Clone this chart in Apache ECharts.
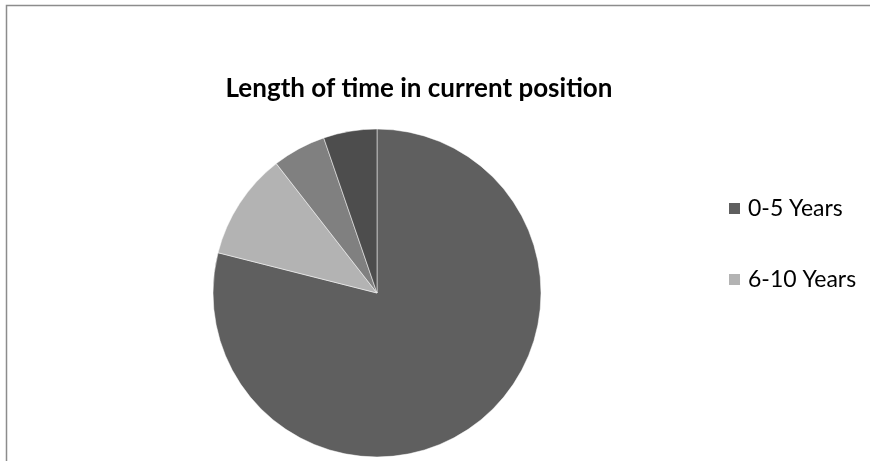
<!DOCTYPE html>
<html>
<head>
<meta charset="utf-8">
<script src="https://cdn.jsdelivr.net/npm/echarts@6/dist/echarts.min.js"></script>
<style>
  html, body { margin: 0; padding: 0; background: #fff; }
  #chart { width: 870px; height: 461px; }
</style>
</head>
<body>
<div id="chart"></div>
<script>
// Tenure groups and respondent counts
const categories = ['0-5 Years', '6-10 Years', '11-15 Years', '16+ Years'];
const counts = [15, 2, 1, 1];
const sliceColors = ['#5f5f5f', '#b3b3b3', '#808080', '#4d4d4d'];
const legendShown = ['0-5 Years', '6-10 Years'];

const chart = echarts.init(document.getElementById('chart'), null, { renderer: 'canvas' });

chart.setOption({
  animation: false,
  backgroundColor: '#fff',
  title: {
    text: 'Length of time in current position',
    left: 414,
    top: 71,
    textAlign: 'center',
    textStyle: {
      fontFamily: 'Lato',
      fontWeight: 'bold',
      fontSize: 26,
      color: '#000'
    }
  },
  legend: {
    orient: 'vertical',
    left: 727,
    top: 197,
    padding: 0,
    itemWidth: 13,
    itemHeight: 13,
    itemGap: 48,
    icon: 'rect',
    data: legendShown,
    textStyle: {
      fontFamily: 'Lato',
      fontSize: 23,
      color: '#000',
      padding: [0, 0, 0, 2]
    }
  },
  graphic: [
    {
      type: 'polyline',
      shape: { points: [[870, 5.5], [6.5, 5.5], [6.5, 461]] },
      style: { stroke: '#8c8c8c', lineWidth: 1.5, fill: null },
      silent: true
    }
  ],
  series: [
    {
      type: 'pie',
      center: [377, 293],
      radius: [0, 164],
      startAngle: 90,
      clockwise: true,
      label: { show: false },
      labelLine: { show: false },
      itemStyle: { borderColor: '#ffffff', borderWidth: 0.5 },
      emphasis: { disabled: true },
      data: categories.map((name, i) => ({
        name: name,
        value: counts[i],
        itemStyle: { color: sliceColors[i] }
      }))
    }
  ]
});
</script>
</body>
</html>
